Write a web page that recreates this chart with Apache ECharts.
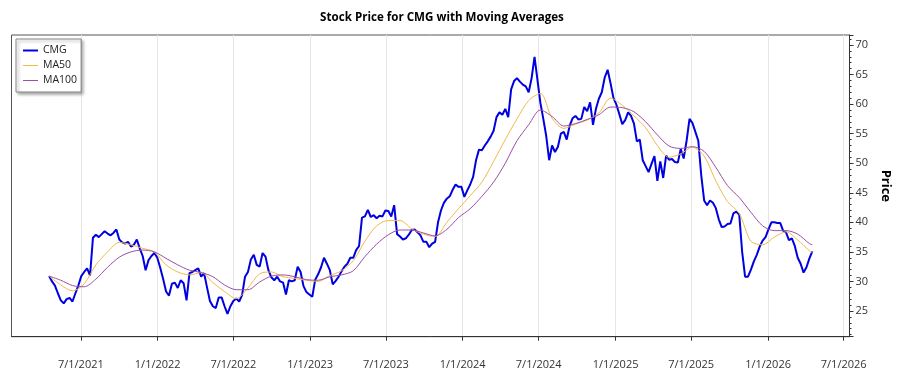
<!DOCTYPE html>
<html>
<head>
<meta charset="utf-8">
<title>CMG moving averages</title>
<script src="https://cdn.jsdelivr.net/npm/echarts@6/dist/echarts.min.js"></script>
<style>
  html, body { margin: 0; padding: 0; background: #fff; }
  #chart { width: 900px; height: 375px; }
</style>
</head>
<body>
<div id="chart"></div>
<script>
// weekly closes
const dates = [
  '2021-04-16','2021-04-23','2021-04-30','2021-05-07','2021-05-14','2021-05-21','2021-05-28',
  '2021-06-04','2021-06-11','2021-06-18','2021-06-25','2021-07-02','2021-07-09','2021-07-16',
  '2021-07-23','2021-07-30','2021-08-06','2021-08-13','2021-08-20','2021-08-27','2021-09-03',
  '2021-09-10','2021-09-17','2021-09-24','2021-10-01','2021-10-08','2021-10-15','2021-10-22',
  '2021-10-29','2021-11-05','2021-11-12','2021-11-19','2021-11-26','2021-12-03','2021-12-10',
  '2021-12-17','2021-12-24','2021-12-31',
  '2022-01-07','2022-01-14','2022-01-21','2022-01-28','2022-02-04','2022-02-11','2022-02-18',
  '2022-02-25','2022-03-04','2022-03-11','2022-03-18','2022-03-25','2022-04-01','2022-04-08',
  '2022-04-15','2022-04-22','2022-04-29','2022-05-06','2022-05-13','2022-05-20','2022-05-27',
  '2022-06-03','2022-06-10','2022-06-17','2022-06-24','2022-07-01','2022-07-08','2022-07-15',
  '2022-07-22','2022-07-29','2022-08-05','2022-08-12','2022-08-19','2022-08-26','2022-09-02',
  '2022-09-09','2022-09-16','2022-09-23','2022-09-30','2022-10-07','2022-10-14','2022-10-21',
  '2022-10-28','2022-11-04','2022-11-11','2022-11-18','2022-11-25','2022-12-02','2022-12-09',
  '2022-12-16','2022-12-23','2022-12-30',
  '2023-01-06','2023-01-13','2023-01-20','2023-01-27','2023-02-03','2023-02-10','2023-02-17',
  '2023-02-24','2023-03-03','2023-03-10','2023-03-17','2023-03-24','2023-03-31','2023-04-07',
  '2023-04-14','2023-04-21','2023-04-28','2023-05-05','2023-05-12','2023-05-19','2023-05-26',
  '2023-06-02','2023-06-09','2023-06-16','2023-06-23','2023-06-30','2023-07-07','2023-07-14',
  '2023-07-21','2023-07-28','2023-08-04','2023-08-11','2023-08-18','2023-08-25','2023-09-01',
  '2023-09-08','2023-09-15','2023-09-22','2023-09-29','2023-10-06','2023-10-13','2023-10-20',
  '2023-10-27','2023-11-03','2023-11-10','2023-11-17','2023-11-24','2023-12-01','2023-12-08',
  '2023-12-15','2023-12-22','2023-12-29',
  '2024-01-05','2024-01-12','2024-01-19','2024-01-26','2024-02-02','2024-02-09','2024-02-16',
  '2024-02-23','2024-03-01','2024-03-08','2024-03-15','2024-03-22','2024-03-29','2024-04-05',
  '2024-04-12','2024-04-19','2024-04-26','2024-05-03','2024-05-10','2024-05-17','2024-05-24',
  '2024-05-31','2024-06-07','2024-06-14','2024-06-21','2024-06-28','2024-07-05','2024-07-12',
  '2024-07-19','2024-07-26','2024-08-02','2024-08-09','2024-08-16','2024-08-23','2024-08-30',
  '2024-09-06','2024-09-13','2024-09-20','2024-09-27','2024-10-04','2024-10-11','2024-10-18',
  '2024-10-25','2024-11-01','2024-11-08','2024-11-15','2024-11-22','2024-11-29','2024-12-06',
  '2024-12-13','2024-12-20','2024-12-27',
  '2025-01-03','2025-01-10','2025-01-17','2025-01-24','2025-01-31','2025-02-07','2025-02-14',
  '2025-02-21','2025-02-28','2025-03-07','2025-03-14','2025-03-21','2025-03-28','2025-04-04',
  '2025-04-11','2025-04-18','2025-04-25','2025-05-02','2025-05-09','2025-05-16','2025-05-23',
  '2025-05-30','2025-06-06','2025-06-13','2025-06-20','2025-06-27','2025-07-04','2025-07-11',
  '2025-07-18','2025-07-25','2025-08-01','2025-08-08','2025-08-15','2025-08-22','2025-08-29',
  '2025-09-05','2025-09-12','2025-09-19','2025-09-26','2025-10-03','2025-10-10','2025-10-17',
  '2025-10-24','2025-10-31','2025-11-07','2025-11-14','2025-11-21','2025-11-28','2025-12-05',
  '2025-12-12','2025-12-19','2025-12-26',
  '2026-01-02','2026-01-09','2026-01-16','2026-01-23','2026-01-30','2026-02-06','2026-02-13',
  '2026-02-20','2026-02-27','2026-03-06','2026-03-13','2026-03-20','2026-03-27','2026-04-03',
  '2026-04-10','2026-04-17'
];

const cmg = [
  30.9, 30.0, 29.3, 28.0, 26.8, 26.3, 27.0, 27.2, 26.6, 28.0, 29.3, 30.9, 31.6, 32.2,
  31.0, 37.4, 37.9, 37.5, 38.0, 38.5, 38.1, 37.8, 38.2, 38.8, 37.1, 36.6, 36.4, 36.7,
  35.9, 36.2, 37.1, 35.6, 34.3, 31.9, 33.6, 34.3, 34.8, 34.0,
  32.3, 30.4, 28.3, 27.6, 29.6, 29.8, 28.9, 30.2, 29.7, 26.8, 31.4, 31.6, 31.9, 32.2,
  30.8, 31.4, 29.0, 26.7, 25.8, 25.5, 27.3, 27.3, 25.8, 24.5, 25.8, 26.7, 27.1, 26.6,
  27.7, 30.8, 31.6, 33.7, 34.5, 32.8, 32.5, 34.8, 34.2, 31.9, 30.7, 30.2, 30.8, 30.0,
  29.8, 27.8, 30.2, 30.0, 30.2, 32.5, 31.6, 29.2, 28.2, 27.8,
  27.4, 30.3, 31.2, 32.4, 34.0, 33.0, 31.9, 29.5, 30.1, 30.8, 31.7, 32.5, 33.0, 34.0,
  34.0, 35.3, 36.0, 40.8, 41.0, 42.1, 40.9, 41.2, 40.7, 41.1, 41.0, 42.0, 41.9, 41.0,
  42.9, 38.0, 37.6, 37.1, 37.3, 37.9, 38.7, 38.8, 38.3, 37.8, 36.7, 36.7, 35.8, 36.4,
  36.7, 40.0, 42.0, 43.3, 44.0, 44.4, 45.5, 46.4, 46.0, 46.0,
  44.3, 45.4, 46.4, 47.7, 50.5, 52.3, 52.2, 53.0, 53.7, 54.5, 55.5, 57.8, 58.6, 58.2,
  59.2, 57.8, 62.5, 63.9, 64.4, 63.8, 63.3, 63.0, 62.0, 64.4, 68.0, 64.1, 60.2, 57.5,
  54.6, 50.5, 53.0, 51.9, 52.8, 55.0, 55.3, 54.0, 56.3, 57.6, 58.0, 57.4, 57.5, 59.5,
  58.8, 60.3, 56.5, 59.2, 60.9, 62.0, 64.5, 65.8, 63.5, 61.0,
  59.9, 58.3, 56.6, 57.3, 58.6, 58.0, 56.7, 53.7, 54.0, 50.5, 49.5, 48.5, 49.9, 51.2,
  47.0, 50.3, 47.5, 51.3, 50.6, 50.7, 50.2, 50.1, 52.4, 50.8, 53.8, 57.5, 56.8, 55.3,
  53.8, 48.0, 43.7, 42.9, 43.7, 43.3, 42.4, 40.5, 39.2, 39.3, 39.7, 39.8, 41.5, 41.8,
  41.3, 35.0, 30.8, 30.8, 32.0, 33.4, 34.5, 35.9, 36.9, 37.5,
  38.8, 40.0, 40.0, 39.9, 39.9, 38.6, 38.3, 37.0, 37.3, 36.0, 34.0, 33.0, 31.5, 32.4,
  33.9, 35.1
];

// moving averages, read every four weeks
const maDates = [
  '2021-04-16','2021-05-14','2021-06-11','2021-07-09','2021-08-06','2021-09-03','2021-10-01',
  '2021-10-29','2021-11-26','2021-12-24','2022-01-21','2022-02-18','2022-03-18','2022-04-15',
  '2022-05-13','2022-06-10','2022-07-08','2022-08-05','2022-09-02','2022-09-30','2022-10-28',
  '2022-11-25','2022-12-23','2023-01-20','2023-02-17','2023-03-17','2023-04-14','2023-05-12',
  '2023-06-09','2023-07-07','2023-08-04','2023-09-01','2023-09-29','2023-10-27','2023-11-24',
  '2023-12-22','2024-01-19','2024-02-16','2024-03-15','2024-04-12','2024-05-10','2024-06-07',
  '2024-07-05','2024-08-02','2024-08-30','2024-09-27','2024-10-25','2024-11-22','2024-12-20',
  '2025-01-17','2025-02-14','2025-03-14','2025-04-11','2025-05-09','2025-06-06','2025-07-04',
  '2025-08-01','2025-08-29','2025-09-26','2025-10-24','2025-11-21','2025-12-19','2026-01-16',
  '2026-02-13','2026-03-13','2026-04-10','2026-04-17'
];

const ma50 = [
  30.9, 29.4, 28.4, 29.6, 32.8, 35.0, 36.6, 36.2, 35.6, 35.0, 32.8, 31.6, 31.1, 31.5,
  29.8, 28.3, 27.1, 28.9, 31.3, 31.6, 30.8, 30.5, 30.2, 30.0, 31.0, 31.8, 33.5, 36.8,
  39.4, 40.3, 40.3, 38.9, 38.0, 37.6, 40.0, 42.3, 44.5, 46.8, 50.3, 54.0, 57.5, 60.6,
  61.8, 57.6, 55.9, 56.6, 57.3, 58.5, 61.0, 59.8, 58.0, 56.0, 53.0, 51.0, 51.6, 52.7,
  51.2, 47.0, 43.5, 41.5, 36.8, 36.2, 37.5, 38.4, 37.0, 35.2, 34.9
];

const ma100 = [
  30.9, 30.2, 29.3, 29.1, 30.4, 32.4, 34.1, 35.0, 35.3, 35.0, 33.9, 32.8, 31.9, 31.5,
  30.8, 29.4, 28.6, 28.6, 29.9, 30.9, 31.1, 30.8, 30.3, 30.2, 30.8, 31.1, 31.8, 34.2,
  36.3, 37.9, 38.7, 38.7, 38.2, 37.7, 38.8, 40.8, 42.3, 44.4, 46.8, 50.0, 53.8, 56.5,
  59.0, 57.9, 56.3, 56.7, 57.4, 58.2, 59.5, 59.4, 58.7, 57.0, 54.8, 52.9, 52.5, 52.8,
  52.0, 49.3, 46.2, 44.2, 41.7, 39.4, 38.6, 38.6, 38.0, 36.4, 36.2
];

const tickDates = [
  '2021-07-01','2022-01-01','2022-07-01','2023-01-01','2023-07-01','2024-01-01',
  '2024-07-01','2025-01-01','2025-07-01','2026-01-01','2026-07-01'
];

const toPairs = (ds, vs) => vs.map((v, i) => [Date.parse(ds[i]), v]);
const tickValues = tickDates.map(d => Date.parse(d));

function fmtDate(value) {
  const d = new Date(value);
  return (d.getUTCMonth() + 1) + '/' + d.getUTCDate() + '/' + d.getUTCFullYear();
}

const chart = echarts.init(document.getElementById('chart'), null, { renderer: 'canvas' });
const font = '"Open Sans", "Noto Sans", sans-serif';
const thickIcon = 'path://M0,0H15V2H0Z';
const thinIcon = 'path://M0,0H15V1H0Z';

chart.setOption({
  backgroundColor: '#fff',
  animation: false,
  textStyle: { fontFamily: font },
  title: {
    text: 'Stock Price for CMG with Moving Averages',
    left: 437,
    textAlign: 'center',
    top: 7,
    textStyle: { fontSize: 11.6, fontWeight: 'bold', color: '#000', fontFamily: font }
  },
  legend: {
    orient: 'vertical',
    left: 16,
    top: 39,
    padding: [6, 4, 6, 7],
    itemGap: 4,
    itemWidth: 15,
    itemHeight: 12,
    backgroundColor: '#fff',
    borderColor: '#888',
    borderWidth: 1,
    shadowColor: 'rgba(0,0,0,0.35)',
    shadowBlur: 3,
    shadowOffsetX: 2,
    shadowOffsetY: 2,
    textStyle: { fontSize: 10.5, color: '#222' },
    data: [
      { name: 'CMG', icon: thickIcon },
      { name: 'MA50', icon: thinIcon },
      { name: 'MA100', icon: thinIcon }
    ]
  },
  grid: {
    left: 11.5,
    right: 36.7,
    top: 35,
    bottom: 38.3,
    show: true,
    borderColor: '#555',
    borderWidth: 1
  },
  xAxis: {
    type: 'value',
    min: Date.parse('2021-01-16'),
    max: Date.parse('2026-07-15'),
    axisLine: { show: true, lineStyle: { color: '#333' } },
    axisTick: { show: true, inside: false, length: 4, customValues: tickValues, lineStyle: { color: '#333' } },
    splitLine: { show: true, lineStyle: { color: '#e6e6e6', width: 1 } },
    axisLabel: {
      customValues: tickValues,
      formatter: fmtDate,
      color: '#333',
      fontSize: 11,
      margin: 23
    }
  },
  yAxis: {
    type: 'value',
    position: 'right',
    min: 20.65,
    max: 71.69,
    splitNumber: 10,
    name: 'Price',
    nameLocation: 'middle',
    nameRotate: -90,
    nameGap: 25,
    nameTextStyle: { fontSize: 13, fontWeight: 'bold', color: '#000' },
    axisLine: { show: true, lineStyle: { color: '#333' } },
    axisTick: { show: true, inside: false, length: 4, lineStyle: { color: '#333' } },
    minorTick: { show: true, splitNumber: 5, length: 2, lineStyle: { color: '#333' } },
    splitLine: { show: false },
    axisLabel: { color: '#333', fontSize: 11, margin: 6, showMinLabel: false, showMaxLabel: false }
  },
  series: [
    {
      name: 'CMG',
      type: 'line',
      symbol: 'none',
      data: toPairs(dates, cmg),
      lineStyle: { color: '#0000e0', width: 2 },
      itemStyle: { color: '#0000e0' },
      z: 3
    },
    {
      name: 'MA50',
      type: 'line',
      symbol: 'none',
      smooth: 0.3,
      data: toPairs(maDates, ma50),
      lineStyle: { color: '#f2b84b', width: 1 },
      itemStyle: { color: '#f2b84b' },
      z: 4
    },
    {
      name: 'MA100',
      type: 'line',
      symbol: 'none',
      smooth: 0.3,
      data: toPairs(maDates, ma100),
      lineStyle: { color: '#9b4ea6', width: 1 },
      itemStyle: { color: '#9b4ea6' },
      z: 5
    }
  ]
});
</script>
</body>
</html>
